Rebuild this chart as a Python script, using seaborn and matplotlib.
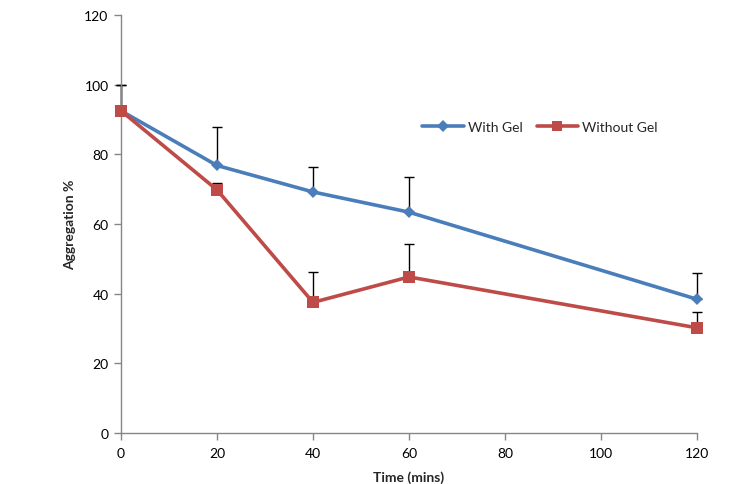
import matplotlib
matplotlib.use("Agg")
import matplotlib.pyplot as plt
import seaborn as sns
import numpy as np
import pandas as pd
from matplotlib.lines import Line2D

time = [0, 20, 40, 60, 120]
with_gel = [92.5, 76.8, 69.2, 63.4, 38.4]
with_gel_err = [7.3, 11.0, 7.3, 10.0, 7.4]
without_gel = [92.5, 69.8, 37.5, 44.8, 30.2]
without_gel_err = [7.3, 2.0, 8.6, 9.5, 4.4]

sns.set_style("white")
plt.rcParams['font.family'] = ['Lato', 'DejaVu Sans']

fig = plt.figure(figsize=(7.5, 4.85), dpi=100)
ax = fig.add_axes([121/750, 1-434/485, (697-121)/750, (434-16)/485])

blue = "#4A7EBB"
red = "#BE4B48"

df = pd.DataFrame({
    "Time": time * 2,
    "Aggregation": with_gel + without_gel,
    "Series": ["With Gel"] * len(time) + ["Without Gel"] * len(time),
})

# error bars (upper only)
for vals, errs in [(with_gel, with_gel_err), (without_gel, without_gel_err)]:
    eb = ax.errorbar(time, vals, yerr=[np.zeros(len(time)), errs], fmt='none',
                     ecolor='black', elinewidth=1, capsize=3.5, capthick=1, zorder=1)
    for child in eb.get_children():
        child.set_clip_on(False)

sns.lineplot(data=df, x="Time", y="Aggregation", hue="Series", style="Series",
             markers={"With Gel": "D", "Without Gel": "s"}, dashes=False,
             palette={"With Gel": blue, "Without Gel": red},
             linewidth=2.6, markersize=8, markeredgewidth=0, ax=ax, zorder=3,
             legend=False)
for ln in ax.lines:
    ln.set_clip_on(False)
    if ln.get_marker() == "D":
        ln.set_markersize(6.5)

ax.set_xlim(0, 120)
ax.set_ylim(0, 120)
ax.set_xticks(range(0, 121, 20))
ax.set_yticks(range(0, 121, 20))
ax.tick_params(axis='both', which='both', direction='out', length=5, width=1,
               color='#868686', labelsize=10, labelcolor='black', pad=4,
               bottom=True, left=True)
ax.tick_params(axis='x', pad=5)
for s in ['top', 'right']:
    ax.spines[s].set_visible(False)
for s in ['left', 'bottom']:
    ax.spines[s].set_color('#868686')
    ax.spines[s].set_linewidth(1)

ax.set_xlabel("Time (mins)", fontsize=10, fontweight='bold', labelpad=8)
ax.set_ylabel("Aggregation %", fontsize=10, fontweight='bold', labelpad=6)

handles = [Line2D([], [], color=blue, marker='D', markersize=6, linewidth=2.6, markeredgewidth=0),
           Line2D([], [], color=red, marker='s', markersize=7, linewidth=2.6, markeredgewidth=0)]
ax.legend(handles, ["With Gel", "Without Gel"], loc='center', bbox_to_anchor=((540-121)/576, (434-128)/418),
          ncol=2, frameon=False, fontsize=10, handlelength=3, handletextpad=0.3, columnspacing=1.0)

fig.savefig("out.png", dpi=100)
